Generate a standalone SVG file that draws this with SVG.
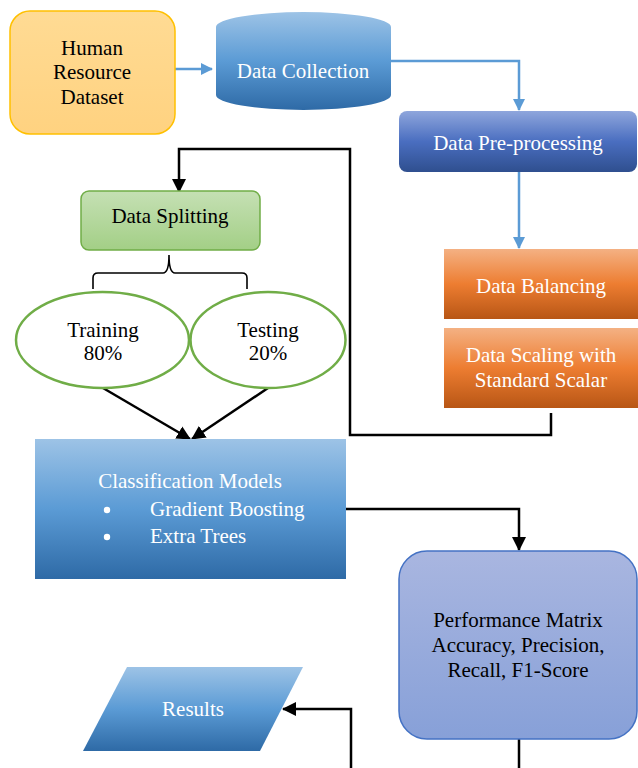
<svg xmlns="http://www.w3.org/2000/svg" width="638" height="768" viewBox="0 0 638 768">
<defs>
<linearGradient id="gBlue" x1="0" y1="0" x2="0" y2="1">
<stop offset="0" stop-color="#9DC3E6"/><stop offset="0.5" stop-color="#5B9BD5"/><stop offset="1" stop-color="#2E6AA6"/>
</linearGradient>
<linearGradient id="gDark" x1="0" y1="0" x2="0" y2="1">
<stop offset="0" stop-color="#8FA6DC"/><stop offset="0.5" stop-color="#4A6EC0"/><stop offset="1" stop-color="#2F4F8F"/>
</linearGradient>
<linearGradient id="gOrange" x1="0" y1="0" x2="0" y2="1">
<stop offset="0" stop-color="#F4B183"/><stop offset="0.5" stop-color="#ED7D31"/><stop offset="1" stop-color="#B85615"/>
</linearGradient>
<linearGradient id="gGreen" x1="0" y1="0" x2="0" y2="1">
<stop offset="0" stop-color="#C5E0B4"/><stop offset="1" stop-color="#A3CF86"/>
</linearGradient>
<linearGradient id="gYellow" x1="0" y1="0" x2="0" y2="1">
<stop offset="0" stop-color="#FFDB94"/><stop offset="1" stop-color="#FFD280"/>
</linearGradient>
<linearGradient id="gPurple" x1="0" y1="0" x2="0" y2="1">
<stop offset="0" stop-color="#A9B6E0"/><stop offset="1" stop-color="#87A0D8"/>
</linearGradient>
<marker id="aBlue" markerWidth="12" markerHeight="12" refX="11" refY="6" orient="auto" markerUnits="userSpaceOnUse">
<path d="M0,0 L12,6 L0,12 Z" fill="#5B9BD5"/>
</marker>
<marker id="aBlack" markerWidth="14" markerHeight="14" refX="13" refY="7" orient="auto" markerUnits="userSpaceOnUse">
<path d="M0,0 L14,7 L0,14 Z" fill="#000"/>
</marker>
</defs>
<style>
text{font-family:"Liberation Serif","Times New Roman",serif;font-size:21px;text-anchor:middle}
.w{fill:#fff}
.k{fill:#000}
.lb{fill:none;stroke:#5B9BD5;stroke-width:2.5}
.lk{fill:none;stroke:#000;stroke-width:2.5}
</style>

<g id="connectors">
<path class="lb" d="M171,69 H212" marker-end="url(#aBlue)"/>
<path class="lb" d="M391,61 H519 V110" marker-end="url(#aBlue)"/>
<path class="lb" d="M519,172 V248" marker-end="url(#aBlue)"/>
<path class="lk" d="M551,413 V435 H350 V149 H179 V192" marker-end="url(#aBlack)"/>
<path d="M169,255 Q169,273 163,273 H98 Q93,273 93,278 V289 M169,255 Q169,273 175,273 H242 Q247,273 247,278 V289" fill="none" stroke="#000" stroke-width="1.6"/>
<path class="lk" d="M103,388 L190,439" marker-end="url(#aBlack)"/>
<path class="lk" d="M268,388 L192,439" marker-end="url(#aBlack)"/>
<path class="lk" d="M346,509 H519 V550" marker-end="url(#aBlack)"/>
<path class="lk" d="M519,739 V768"/>
<path class="lk" d="M351,768 V709 H283" marker-end="url(#aBlack)"/>
</g>

<g id="hr-dataset">
<rect x="10" y="11" width="165" height="123" rx="20" fill="url(#gYellow)" stroke="#FFC000" stroke-width="1.5"/>
<text x="92" y="55" class="k">Human</text>
<text x="92" y="79" class="k">Resource</text>
<text x="92" y="104" class="k">Dataset</text>
</g>

<g id="data-collection">
<path d="M216,27 A87.5,15 0 0 1 391,27 V95 A87.5,15 0 0 1 216,95 Z" fill="url(#gBlue)"/>
<text x="303" y="78" class="w">Data Collection</text>
</g>

<g id="pre-processing">
<rect x="399" y="111" width="238" height="61" rx="8" fill="url(#gDark)"/>
<text x="518" y="150" class="w">Data Pre-processing</text>
</g>

<g id="data-splitting">
<rect x="81" y="191" width="179" height="59" rx="8" fill="url(#gGreen)" stroke="#70AD47" stroke-width="1.5"/>
<text x="170" y="223" class="k">Data Splitting</text>
</g>

<g id="training">
<ellipse cx="102.5" cy="340" rx="86.5" ry="48" fill="#fff" stroke="#70AD47" stroke-width="2.5"/>
<text x="103" y="337" class="k">Training</text>
<text x="103" y="360" class="k">80%</text>
</g>

<g id="testing">
<ellipse cx="268" cy="340" rx="77.5" ry="48" fill="#fff" stroke="#70AD47" stroke-width="2.5"/>
<text x="268" y="337" class="k">Testing</text>
<text x="268" y="360" class="k">20%</text>
</g>

<g id="data-balancing">
<rect x="444" y="249" width="194" height="70" fill="url(#gOrange)"/>
<text x="541" y="293" class="w">Data Balancing</text>
</g>

<g id="data-scaling">
<rect x="444" y="328" width="194" height="80" fill="url(#gOrange)"/>
<text x="541" y="362" class="w">Data Scaling with</text>
<text x="541" y="387" class="w">Standard Scalar</text>
</g>

<g id="classification">
<rect x="35" y="439" width="311" height="140" fill="url(#gBlue)"/>
<text x="190" y="488" class="w">Classification Models</text>
<circle cx="107" cy="510" r="3.2" fill="#fff"/>
<circle cx="107" cy="537" r="3.2" fill="#fff"/>
<text x="150" y="516" class="w" style="text-anchor:start">Gradient Boosting</text>
<text x="150" y="543" class="w" style="text-anchor:start">Extra Trees</text>
</g>

<g id="performance">
<rect x="399" y="551" width="238" height="188" rx="28" fill="url(#gPurple)" stroke="#4472C4" stroke-width="1.5"/>
<text x="518" y="627" class="k">Performance Matrix</text>
<text x="518" y="652" class="k">Accuracy, Precision,</text>
<text x="518" y="677" class="k">Recall, F1-Score</text>
</g>

<g id="results">
<path d="M127,667 H303 L260,751 H83 Z" fill="url(#gBlue)"/>
<text x="193" y="716" class="w">Results</text>
</g>
</svg>
